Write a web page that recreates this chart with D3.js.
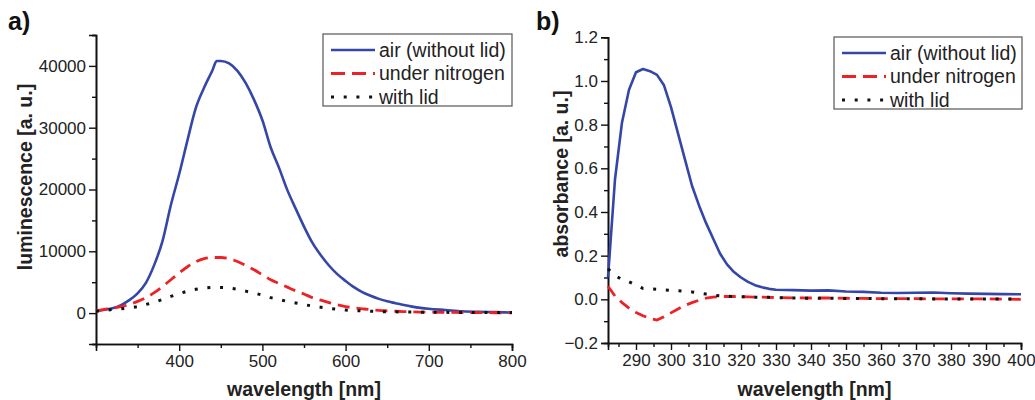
<!DOCTYPE html>
<html>
<head>
<meta charset="utf-8">
<script src="https://cdn.jsdelivr.net/npm/d3@7"></script>
<style>
  body { margin: 0; background: #fff; }
  svg { display: block; font-family: "Liberation Sans", Arial, sans-serif; }
</style>
</head>
<body>
<div id="chart"></div>
<script>
// Panel a: luminescence spectra
const lumWavelength = [300, 310, 320, 330, 340, 350, 360, 370, 380, 390, 400, 410, 420, 430, 440, 445, 450, 460, 470, 480, 490, 500, 510, 520, 530, 540, 550, 560, 570, 580, 590, 600, 610, 620, 630, 640, 650, 660, 670, 680, 690, 700, 720, 740, 760, 780, 800];
const lumAir = [300, 550, 800, 1300, 2100, 3200, 4900, 7800, 11700, 17500, 22500, 28000, 33200, 36500, 39300, 40800, 40800, 40400, 39200, 37200, 34500, 31200, 26800, 23500, 19900, 16900, 14000, 11400, 9400, 7700, 6300, 5200, 4200, 3400, 2800, 2300, 1900, 1600, 1300, 1050, 850, 700, 500, 300, 200, 150, 100];
const lumNitrogen = [400, 600, 800, 1050, 1400, 1900, 2500, 3300, 4300, 5400, 6500, 7500, 8300, 8800, 9000, 9000, 9000, 8800, 8350, 7700, 7000, 6200, 5400, 4800, 4200, 3600, 3100, 2500, 2100, 1700, 1350, 1050, 850, 700, 560, 450, 370, 300, 250, 200, 170, 150, 120, 100, 80, 60, 50];
const lumLid = [300, 450, 580, 700, 850, 1050, 1400, 1750, 2200, 2700, 3150, 3550, 3850, 4050, 4150, 4150, 4150, 4050, 3850, 3550, 3250, 2900, 2500, 2200, 1900, 1650, 1380, 1150, 950, 780, 620, 500, 420, 350, 300, 250, 220, 200, 180, 160, 150, 150, 120, 100, 90, 80, 80];

// Panel b: absorbance spectra
const absWavelength = [282, 284, 286, 288, 290, 292, 294, 296, 298, 300, 302, 304, 306, 308, 310, 312, 314, 316, 318, 320, 322, 324, 326, 328, 330, 335, 340, 345, 350, 355, 360, 365, 370, 375, 380, 385, 390, 395, 400];
const absAir = [0.10, 0.55, 0.81, 0.96, 1.04, 1.055, 1.045, 1.028, 0.98, 0.88, 0.76, 0.64, 0.52, 0.43, 0.35, 0.28, 0.21, 0.16, 0.125, 0.10, 0.08, 0.065, 0.055, 0.048, 0.044, 0.042, 0.040, 0.041, 0.036, 0.034, 0.030, 0.029, 0.030, 0.031, 0.028, 0.026, 0.025, 0.024, 0.023];
const absNitrogen = [0.06, 0.015, -0.015, -0.04, -0.06, -0.075, -0.088, -0.095, -0.08, -0.062, -0.044, -0.028, -0.015, -0.004, 0.005, 0.01, 0.013, 0.013, 0.013, 0.012, 0.011, 0.010, 0.010, 0.009, 0.008, 0.007, 0.006, 0.006, 0.005, 0.004, 0.003, 0.003, 0.003, 0.002, 0.002, 0.002, 0.002, 0.001, 0.000];
const absLid = [0.14, 0.11, 0.09, 0.08, 0.065, 0.05, 0.048, 0.046, 0.043, 0.041, 0.039, 0.037, 0.034, 0.029, 0.024, 0.019, 0.016, 0.014, 0.013, 0.012, 0.011, 0.010, 0.009, 0.009, 0.008, 0.006, 0.005, 0.005, 0.004, 0.004, 0.003, 0.003, 0.003, 0.002, 0.002, 0.002, 0.002, 0.001, 0.001];

const seriesNames = ['air (without lid)', 'under nitrogen', 'with lid'];
const lumTicksX = [400, 500, 600, 700, 800];
const lumTicksY = [0, 10000, 20000, 30000, 40000];
const absTicksX = [290, 300, 310, 320, 330, 340, 350, 360, 370, 380, 390, 400];
const absTicksY = [-0.2, 0.0, 0.2, 0.4, 0.6, 0.8, 1.0, 1.2];

const styles = [
  { color: '#3447a8', dash: null, width: 2.6 },
  { color: '#ec2227', dash: '12,7', width: 2.8 },
  { color: '#111', dash: '3,9.7', width: 3 }
];

const svg = d3.select('#chart').append('svg')
  .attr('width', 1035)
  .attr('height', 400);

function drawPanel(opt) {
  const x = d3.scaleLinear().domain(opt.xDomain).range(opt.xRange);
  const y = d3.scaleLinear().domain(opt.yDomain).range(opt.yRange);
  const g = svg.append('g');

  // Axes
  const xAxis = d3.axisBottom(x).tickValues(opt.xTicks).tickFormat(opt.xFormat).tickSize(7).tickPadding(4);
  const yAxis = d3.axisLeft(y).tickValues(opt.yTicks).tickFormat(opt.yFormat).tickSize(7).tickPadding(3);
  const xMinor = d3.axisBottom(x).tickValues(opt.xMinor).tickFormat('').tickSize(4);
  const yMinor = d3.axisLeft(y).tickValues(opt.yMinor).tickFormat('').tickSize(4);

  [[xMinor, 'x'], [xAxis, 'x'], [yMinor, 'y'], [yAxis, 'y']].forEach(function(a) {
    const ag = g.append('g')
      .attr('transform', a[1] === 'x' ? 'translate(0,' + opt.yRange[0] + ')' : 'translate(' + opt.xRange[0] + ',0)')
      .call(a[0]);
    ag.select('.domain').attr('stroke', '#111').attr('stroke-width', 1.6);
    ag.selectAll('.tick line').attr('stroke', '#111').attr('stroke-width', 1.4);
    ag.selectAll('.tick text').attr('fill', '#222').style('font-size', '17px');
  });

  // Lines
  const line = d3.line()
    .x(function(d) { return x(d[0]); })
    .y(function(d) { return y(d[1]); })
    .curve(opt.curve);

  opt.series.forEach(function(vals, i) {
    const pts = opt.xs.map(function(v, j) { return [v, vals[j]]; });
    g.append('path')
      .datum(pts)
      .attr('fill', 'none')
      .attr('stroke', styles[i].color)
      .attr('stroke-width', styles[i].width)
      .attr('stroke-dasharray', styles[i].dash)
      .attr('stroke-linejoin', 'round')
      .attr('d', line);
  });

  // Axis titles
  g.append('text')
    .attr('x', (opt.xRange[0] + opt.xRange[1]) / 2)
    .attr('y', 396)
    .attr('text-anchor', 'middle')
    .style('font-size', '19.5px')
    .style('font-weight', 'bold')
    .attr('fill', '#222')
    .text('wavelength [nm]');

  g.append('text')
    .attr('transform', 'translate(' + opt.yTitleX + ',' + opt.yTitleY + ') rotate(-90)')
    .attr('text-anchor', 'middle')
    .attr('dy', '0.35em')
    .style('font-size', '19.5px')
    .style('font-weight', 'bold')
    .attr('fill', '#222')
    .text(opt.yTitle);

  // Panel label
  g.append('text')
    .attr('x', opt.labelX)
    .attr('y', 30)
    .style('font-size', '25px')
    .style('font-weight', 'bold')
    .attr('fill', '#111')
    .text(opt.label);

  // Legend
  const lg = g.append('g').attr('transform', 'translate(' + opt.legend[0] + ',' + opt.legend[1] + ')');
  lg.append('rect')
    .attr('width', opt.legend[2])
    .attr('height', 72)
    .attr('fill', '#fff')
    .attr('stroke', '#555')
    .attr('stroke-width', 1.2);
  seriesNames.forEach(function(name, i) {
    const yy = 16 + i * 23.5;
    lg.append('line')
      .attr('x1', 8).attr('x2', 52)
      .attr('y1', yy).attr('y2', yy)
      .attr('stroke', styles[i].color)
      .attr('stroke-width', styles[i].width)
      .attr('stroke-dasharray', i === 1 ? '14,7' : styles[i].dash);
    lg.append('text')
      .attr('x', 56)
      .attr('y', yy)
      .attr('dy', '0.35em')
      .style('font-size', '19.5px')
      .attr('fill', '#222')
      .text(name);
  });
}

drawPanel({
  xDomain: [300, 800], xRange: [96, 512],
  yDomain: [-5000, 45000], yRange: [344, 35],
  xTicks: lumTicksX, yTicks: lumTicksY,
  xMinor: d3.range(350, 800, 100), yMinor: d3.range(-5000, 45001, 10000),
  xFormat: d3.format('d'), yFormat: d3.format('d'),
  xs: lumWavelength, series: [lumAir, lumNitrogen, lumLid],
  curve: d3.curveMonotoneX,
  yTitle: 'luminescence [a. u.]', yTitleX: 25, yTitleY: 177,
  label: 'a)', labelX: 8,
  legend: [323, 34, 189]
});

drawPanel({
  xDomain: [282, 400], xRange: [608, 1021],
  yDomain: [-0.2, 1.2], yRange: [343, 37.3],
  xTicks: absTicksX, yTicks: absTicksY,
  xMinor: d3.range(285, 400, 10), yMinor: d3.range(-0.1, 1.2, 0.2),
  xFormat: d3.format('d'), yFormat: d3.format('.1f'),
  xs: absWavelength, series: [absAir, absNitrogen, absLid],
  curve: d3.curveLinear,
  yTitle: 'absorbance [a. u.]', yTitleX: 561, yTitleY: 174,
  label: 'b)', labelX: 536,
  legend: [834, 37, 188]
});
</script>
</body>
</html>
